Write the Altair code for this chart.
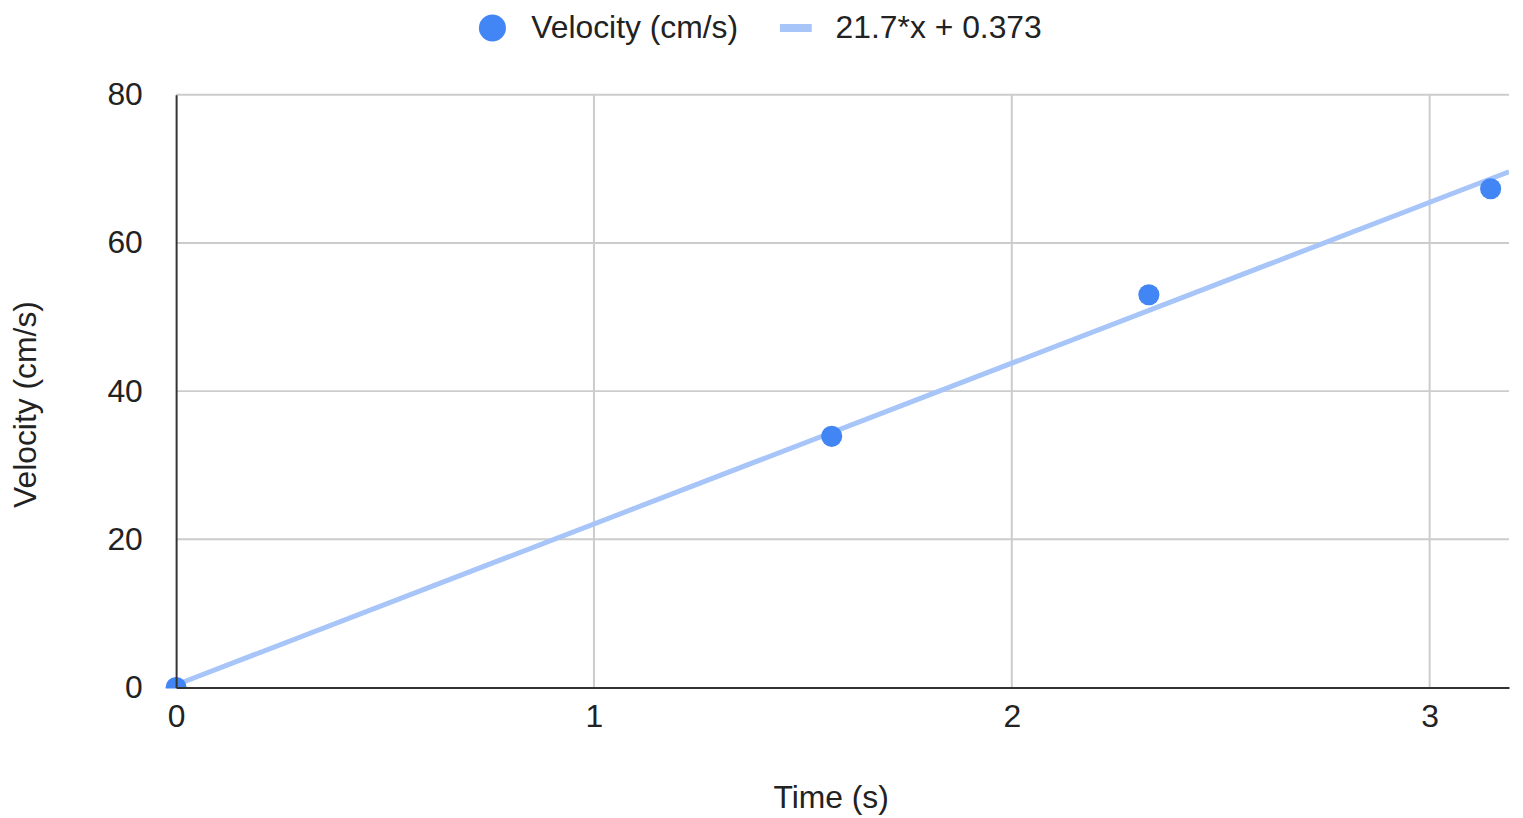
import altair as alt
import pandas as pd

# Data
time_s = [0.0, 1.569, 2.328, 3.146]
velocity = [0.0, 33.9, 53.0, 67.3]

slope = 21.7
intercept = 0.373
x_max = 3.19
trend_x = [0.0, x_max]

series_names = ["Velocity (cm/s)", "21.7*x + 0.373"]
point_color = "#4285F4"
trend_color = "#A7C5F8"
FONT = "Liberation Sans"
FS = 32

pts = pd.DataFrame({"t": time_s, "v": velocity})
trend = pd.DataFrame({"t": trend_x, "v": [slope * t + intercept for t in trend_x]})

W, H = 1340, 596

xs = alt.Scale(domain=[0, x_max], nice=False, zero=False)
ys = alt.Scale(domain=[0, 80], nice=False)

xaxis = alt.Axis(title="Time (s)", values=[0, 1, 2, 3], format="d", tickSize=0,
                 labelPadding=14, labelFlush=False, titleX=658, titleY=111,
                 titleBaseline="middle", titleAnchor="start", titleAlign="center",
                 zindex=1, grid=False)
yaxis = alt.Axis(title="Velocity (cm/s)", values=[0, 20, 40, 60, 80], tickSize=0,
                 labelPadding=34, labelFlush=False, titleX=-151, titleY=311,
                 titleBaseline="middle", titleAlign="center", titleAngle=270,
                 zindex=1, grid=False)

# grid layers (drawn behind marks)
grid_x = alt.Chart(pd.DataFrame({"t": [1, 2, 3]})).mark_rule(
    color="#CCCCCC", strokeWidth=2).encode(x=alt.X("t:Q", scale=xs))
grid_y = alt.Chart(pd.DataFrame({"v": [20, 40, 60, 80]})).mark_rule(
    color="#CCCCCC", strokeWidth=2).encode(y=alt.Y("v:Q", scale=ys))

line = alt.Chart(trend).mark_line(color=trend_color, strokeWidth=5, clip=True).encode(
    x=alt.X("t:Q", scale=xs, axis=xaxis),
    y=alt.Y("v:Q", scale=ys, axis=yaxis),
)

points = alt.Chart(pts).mark_circle(color=point_color, size=450, opacity=1).encode(
    x=alt.X("t:Q", scale=xs),
    y=alt.Y("v:Q", scale=ys),
)

# hide the part of the markers below the x axis line
mask = alt.Chart(pd.DataFrame({"m": [0]})).mark_rect(color="white").encode(
    x=alt.value(-16), x2=alt.value(16), y=alt.value(H + 1), y2=alt.value(H + 16))

# Manual legend at top
leg_circle = alt.Chart(pd.DataFrame({"s": [series_names[0]]})).mark_circle(
    color=point_color, size=740, opacity=1
).encode(x=alt.value(318), y=alt.value(-67))

leg_line = alt.Chart(pd.DataFrame({"s": [series_names[1]]})).mark_rule(
    color=trend_color, strokeWidth=8
).encode(x=alt.value(607), x2=alt.value(639), y=alt.value(-67))

leg_text1 = alt.Chart(pd.DataFrame({"s": [series_names[0]]})).mark_text(
    align="left", baseline="middle", fontSize=FS, font=FONT, color="#222"
).encode(x=alt.value(357), y=alt.value(-67), text="s:N")

leg_text2 = alt.Chart(pd.DataFrame({"s": [series_names[1]]})).mark_text(
    align="left", baseline="middle", fontSize=FS, font=FONT, color="#222"
).encode(x=alt.value(663), y=alt.value(-67), text="s:N")

chart = alt.layer(grid_x, grid_y, line, points, mask,
                  leg_circle, leg_line, leg_text1, leg_text2).properties(
    width=W, height=H,
    autosize=alt.AutoSizeParams(type="none"),
    padding={"left": 169, "top": 85, "right": 6, "bottom": 132},
).configure_view(stroke=None).configure_axis(
    labelFont=FONT, titleFont=FONT, labelFontSize=FS, titleFontSize=FS,
    labelColor="#222", titleColor="#222", titleFontWeight="normal",
    domainColor="#333333", domainWidth=2,
)

chart.save("out.html", embed_options={"renderer": "svg", "actions": False})
